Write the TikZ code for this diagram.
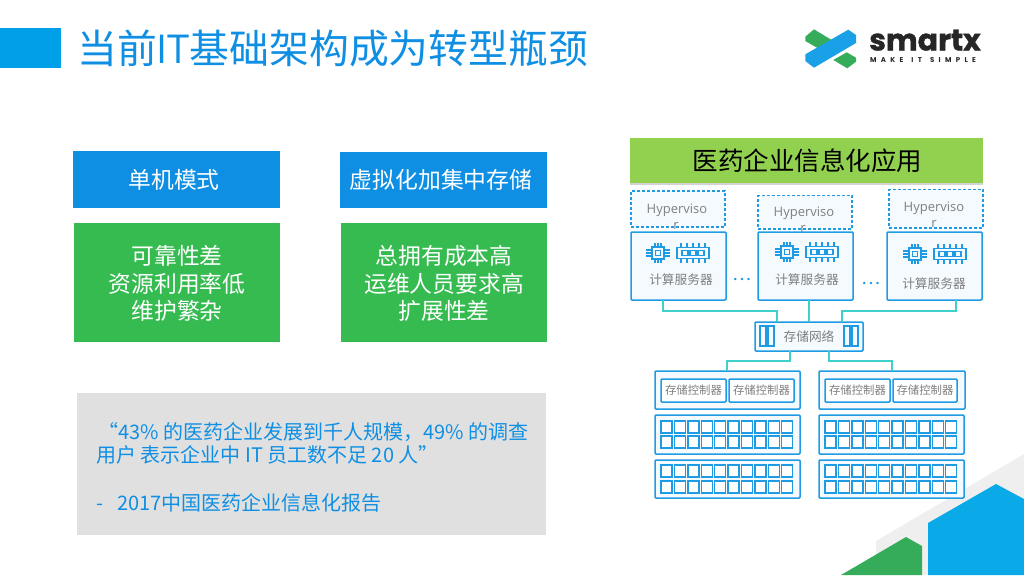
\documentclass[tikz,border=0pt]{standalone}
\usepackage{fontspec}
\setmainfont{Open Sans}
\newfontfamily\cjk{Noto Sans CJK SC}
\newfontfamily\logofont[FakeBold=1.2]{Poppins}
\newfontfamily\tagfont[LetterSpace=62]{Poppins}
\usetikzlibrary{shadows,calc}
\definecolor{bluefill}{HTML}{0F8FE3}
\definecolor{tabblue}{HTML}{00A0E9}
\definecolor{greenfill}{HTML}{35BB50}
\definecolor{appgreen}{HTML}{92D050}
\definecolor{greybox}{HTML}{E0E0E0}
\definecolor{linkblue}{HTML}{1E9BE3}
\definecolor{paleblue}{HTML}{F5FAFF}
\definecolor{teal}{HTML}{3FD0CC}
\definecolor{txtgrey}{HTML}{7F7F7F}
\definecolor{logogreen}{HTML}{35AC5A}
\definecolor{logoblue}{HTML}{1AA0E6}
\definecolor{cornergrey}{HTML}{EFEFEF}
\definecolor{cornerblue}{HTML}{0AAAE8}
\newcommand{\pbox}[7]{%
  \pgfmathsetmacro\cx{(#3+#5)/2}\pgfmathsetmacro\cy{(#4+#6)/2}%
  \pgfmathsetmacro\wx{#5-#3}\pgfmathsetmacro\wy{#6-#4}%
  \node[#1,minimum width=\wx pt,minimum height=\wy pt] (#2) at (\cx,\cy) {#7};}
\tikzset{
  x=1pt,y=-1pt,
  allbox/.style={inner sep=0pt,outer sep=0pt,align=center},
  headbox/.style={allbox,fill=bluefill},
  bodybox/.style={allbox,fill=greenfill},
  appbox/.style={allbox,fill=appgreen,drop shadow={opacity=.35,shadow xshift=0pt,shadow yshift=-2pt}},
  whitetext/.style={inner sep=0pt,align=center,text=white,font=\cjk\fontsize{22.8}{27.5}\selectfont},
  hyperbox/.style={allbox,draw=linkblue,fill=paleblue,line width=1.5pt,densely dashed},
  unit/.style={allbox,draw=linkblue,fill=paleblue,line width=1.5pt,rounded corners=1pt},
  slot/.style={allbox,draw=linkblue,fill=white,line width=1.4pt},
  glabel/.style={inner sep=0pt,text=txtgrey,font=\cjk\fontsize{12.7}{15}\selectfont},
  hlabel/.style={inner sep=0pt,text=txtgrey,font=\fontsize{13}{15}\selectfont},
  quote/.style={inner sep=0pt,anchor=base west,text=bluefill,font=\cjk\fontsize{20}{24}\selectfont},
  wire/.style={draw=teal,line width=1.2pt},
  dotsmark/.style={inner sep=0pt,anchor=base,text=linkblue,font=\bfseries\fontsize{14}{15}\selectfont},
  icon/.style={draw=linkblue,line width=1.3pt},
}
\newcommand{\servericons}[2]{%
  \begin{scope}[shift={(#1,#2)}]
    \draw[icon,fill=paleblue] (-6,-6) rectangle (6,6);
    \draw[icon] (-2.5,-2.5) rectangle (2.5,2.5);
    \foreach \s in {-3,0,3}{
      \draw[icon] (-12,\s) -- (-6,\s); \draw[icon] (6,\s) -- (12,\s);
      \draw[icon] (\s,-10) -- (\s,-6); \draw[icon] (\s,6) -- (\s,10);}
    \draw[icon,fill=paleblue] (19,-5.5) rectangle (51,5.5);
    \foreach \s in {24,32,40}{\draw[icon] (\s,-2.5) rectangle (\s+6,2.5);}
    \foreach \s in {23,29,35,41,47}{
      \draw[icon] (\s,-10) -- (\s,-5.5); \draw[icon] (\s,5.5) -- (\s,10);}
  \end{scope}}
\begin{document}
\begin{tikzpicture}
\useasboundingbox (0,0) rectangle (1024,576);
% corner decoration
\fill[cornergrey] (876,541) -- (1024,454) -- (1024,575) -- (922,575) -- (922,546) -- (906,537) -- (876,555) -- cycle;
\fill[logogreen] (841,575) -- (906,537) -- (922,546) -- (922,575) -- cycle;
\fill[cornerblue] (928,523) -- (996,484) -- (1024,499) -- (1024,575) -- (928,575) -- cycle;
% title
\fill[tabblue] (0,28) rectangle (61,68);
\node[inner sep=0pt,anchor=base west,text=bluefill] (title) at (77,63.5) {\fontsize{39.8}{46}\selectfont\cjk 当前{\rmfamily IT}基础架构成为转型瓶颈};
% logo
\fill[logogreen] (805.3,36.7) -- (814,29.3) -- (833.3,41) -- (819.3,49) -- (805.3,41) -- cycle;
\fill[logogreen] (833.3,60) -- (846.7,52.3) -- (856,57.7) -- (856,61.7) -- (847.3,68.3) -- cycle;
\fill[logoblue] (805.3,54.3) -- (848.3,29.7) -- (856,35) -- (856,43) -- (814,67.7) -- (805.3,61) -- cycle;
\node[inner sep=0pt,anchor=base west,align=left,text=black!85] (brand) at (869,62) {\logofont\bfseries\fontsize{30}{10.5}\selectfont smartx\\[-0.5pt]\hspace{1pt}\tagfont\bfseries\fontsize{7}{10.5}\selectfont MAKE\hspace{8pt}IT\hspace{8pt}SIMPLE};
% left columns
\pbox{headbox}{h1}{73}{151}{280}{208}{}
\pbox{headbox}{h2}{340}{152}{547}{208}{}
\pbox{bodybox}{b1}{74}{223}{280}{342}{}
\pbox{bodybox}{b2}{341}{223}{547}{342}{}
\node[whitetext] (ht1) at (174,180) {单机模式};
\node[whitetext] (ht2) at (441,180) {虚拟化加集中存储};
\node[whitetext] (bt1) at (177,283.5) {可靠性差\\资源利用率低\\维护繁杂};
\node[whitetext] (bt2) at (444,283.5) {总拥有成本高\\运维人员要求高\\扩展性差};
% quote
\pbox{allbox,fill=greybox}{qb}{77}{393}{546}{535}{}
\node[quote] (q1) at (89,439) {\ \ “43\% 的医药企业发展到千人规模，49\% 的调查};
\node[quote] (q2) at (96,462) {用户 表示企业中 IT 员工数不足 20 人”};
\node[quote] (q3) at (96,510) {-\ \ \hspace{5pt}2017中国医药企业信息化报告};
% application
\pbox{appbox}{app}{630}{138}{983}{183}{}
\node[inner sep=0pt,text=black,font=\cjk\fontsize{25.5}{30}\selectfont] (appt) at (807.5,161) {医药企业信息化应用};
% hypervisors
\pbox{hyperbox}{hv1}{631}{191}{725}{227}{}
\pbox{hyperbox}{hv2}{758}{195.5}{852}{229}{}
\pbox{hyperbox}{hv3}{889}{189.5}{983}{228}{}
\node[hlabel] (hvt1) at (677,210) {Hyperviso};
\node[hlabel] (hvr1) at (676,225.5) {r};
\node[hlabel] (hvt2) at (804,213) {Hyperviso};
\node[hlabel] (hvr2) at (803,228.5) {r};
\node[hlabel] (hvt3) at (934,208) {Hyperviso};
\node[hlabel] (hvr3) at (934,224) {r};
% servers
\pbox{unit}{s1}{631}{232}{726}{300}{}
\pbox{unit}{s2}{758}{232}{853}{300}{}
\pbox{unit}{s3}{887}{232}{982}{300}{}
\servericons{658}{253}
\servericons{787}{252}
\servericons{915}{254}
\node[glabel] (st1) at (681,280) {计算服务器};
\node[glabel] (st2) at (807,280) {计算服务器};
\node[glabel] (st3) at (934,284) {计算服务器};
\node[dotsmark] (dot1) at (742,280) {.\hspace{2.6pt}.\hspace{2.6pt}.};
\node[dotsmark] (dot2) at (871,284) {.\hspace{2.6pt}.\hspace{2.6pt}.};
% storage network
\pbox{unit}{net}{755}{322}{863}{351}{}
\node[glabel] (nett) at (809,336.5) {存储网络};
\pbox{slot,fill=paleblue}{n1}{760}{326}{766}{346}{}
\pbox{slot,fill=paleblue}{n2}{768}{326}{774}{346}{}
\pbox{slot,fill=paleblue}{n3}{844}{326}{850}{346}{}
\pbox{slot,fill=paleblue}{n4}{852}{326}{858}{346}{}
% controllers
\pbox{unit}{cl}{655}{371}{800}{409}{}
\pbox{unit}{cr}{819}{371}{965}{409}{}
\pbox{unit,fill=white}{cl1}{661}{379}{726}{402}{}
\pbox{unit,fill=white}{cl2}{729}{379}{794}{402}{}
\pbox{unit,fill=white}{cr1}{825}{379}{890}{402}{}
\pbox{unit,fill=white}{cr2}{893}{379}{957}{402}{}
\foreach \n in {cl1,cl2,cr1,cr2}{\node[glabel,font=\cjk\fontsize{11.4}{13}\selectfont] (t\n) at (\n) {存储控制器};}
% disk shelves
\pbox{unit}{dl1}{655}{415}{800}{454}{}
\pbox{unit}{dl2}{655}{460}{800}{498}{}
\pbox{unit}{dr1}{819}{415}{964}{454}{}
\pbox{unit}{dr2}{819}{460}{964}{498}{}
\foreach \xs/\tag in {661/l,825/r}{
  \foreach \ys/\row in {421/a,436/b,465/c,481/d}{
    \foreach \c in {0,...,9}{
      \pgfmathsetmacro\xa{\xs+13.4*\c}
      \pgfmathsetmacro\xb{\xa+11}
      \pgfmathsetmacro\yb{\ys+12}
      \pbox{slot}{d\tag\row\c}{\xa}{\ys}{\xb}{\yb}{}
    }}}
% connectors
\draw[wire] ([xshift=-15.5pt]s1.south) -- ++(0,11) -| ([xshift=-32pt]net.north);
\draw[wire] ([xshift=3.5pt]s2.south) -- (net.north);
\draw[wire] ([xshift=21.5pt]s3.south) -- ++(0,11) -| ([xshift=33pt]net.north);
\draw[wire] ([xshift=-19pt]net.south) -- ++(0,10) -| ([xshift=-0.5pt]cl.north);
\draw[wire] ([xshift=20pt]net.south) -- ++(0,10) -| ([xshift=0pt]cr.north);
\end{tikzpicture}
\end{document}
